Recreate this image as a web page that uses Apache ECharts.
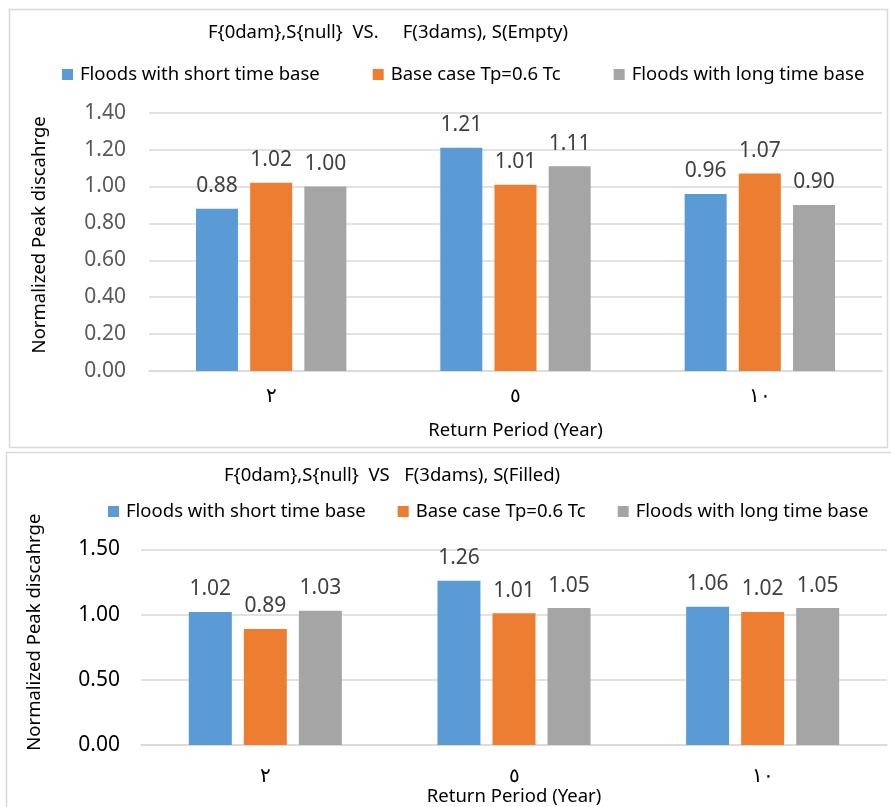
<!DOCTYPE html>
<html>
<head>
<meta charset="utf-8">
<script src="https://cdn.jsdelivr.net/npm/echarts@6/dist/echarts.min.js"></script>
<style>
html,body{margin:0;padding:0;background:#fff;}
#c{width:891px;height:807px;}
</style>
</head>
<body>
<div id="c"></div>
<script>
const categories = ['٢', '٥', '١٠'];
const seriesNames = ['Floods with short time base', 'Base case Tp=0.6 Tc', 'Floods with long time base'];
const topShort = [0.88, 1.21, 0.96];
const topBase = [1.02, 1.01, 1.07];
const topLong = [1.00, 1.11, 0.90];
const botShort = [1.02, 1.26, 1.06];
const botBase = [0.89, 1.01, 1.02];
const botLong = [1.03, 1.05, 1.05];
const topTitle = 'F{0dam},S{null}  VS.     F(3dams), S(Empty)';
const botTitle = 'F{0dam},S{null}  VS   F(3dams), S(Filled)';
const yName = 'Normalized Peak discahrge';
const xName = 'Return Period (Year)';

const colors = ['#5B9BD5', '#ED7D31', '#A5A5A5'];
const FONT = 'Noto Sans';

function barSeries(name, data, idx, color, bw, gap) {
  return {
    type: 'bar', name: name, data: data,
    xAxisIndex: idx, yAxisIndex: idx,
    barWidth: bw, barGap: gap,
    itemStyle: { color: color },
    label: {
      show: true, position: 'top', distance: 12,
      formatter: p => p.value.toFixed(2),
      fontFamily: FONT, fontSize: 21, color: '#404040'
    }
  };
}

const chart = echarts.init(document.getElementById('c'), null, { renderer: 'canvas' });
chart.setOption({
  animation: false,
  backgroundColor: '#fff',
  color: colors,
  textStyle: { fontFamily: FONT },
  graphic: [
    { type: 'rect', shape: { x: 9.5, y: 9.5, width: 878, height: 438 }, style: { fill: 'none', stroke: '#d9d9d9', lineWidth: 1.5 }, z: -1 },
    { type: 'rect', shape: { x: 6.5, y: 452.5, width: 900, height: 400 }, style: { fill: 'none', stroke: '#d9d9d9', lineWidth: 1.5 }, z: -1 }
  ],
  title: [
    { text: topTitle, left: 208, top: 23, padding: 0, textStyle: { fontFamily: FONT, fontSize: 18.5, fontWeight: 'normal', color: '#000' } },
    { text: botTitle, left: 224, top: 466, padding: 0, textStyle: { fontFamily: FONT, fontSize: 18.5, fontWeight: 'normal', color: '#000' } }
  ],
  legend: [
    { data: seriesNames, left: 62, top: 65, padding: 0, icon: 'rect', itemWidth: 11, itemHeight: 11, itemGap: 53,
      textStyle: { fontFamily: FONT, fontSize: 18.5, color: '#000', padding: [0, 0, 0, 2] } },
    { data: seriesNames, left: 108, top: 502, padding: 0, icon: 'rect', itemWidth: 11, itemHeight: 11, itemGap: 32,
      textStyle: { fontFamily: FONT, fontSize: 18.5, color: '#000', padding: [0, 0, 0, 2] } }
  ],
  grid: [
    { left: 149, right: 9, top: 112.7, bottom: 807 - 371 },
    { left: 141, right: 4, top: 549.3, bottom: 807 - 748.3 }
  ],
  xAxis: [0, 1].map(i => ({
    type: 'category', gridIndex: i, data: categories,
    axisLine: { lineStyle: { color: '#d9d9d9', width: 1.5 } },
    axisTick: { show: false },
    axisLabel: { fontFamily: FONT, fontSize: 20, color: '#000', margin: i === 0 ? 15 : 21 },
    name: xName, nameLocation: 'middle', nameGap: i === 0 ? 50 : 39,
    nameTextStyle: { fontFamily: FONT, fontSize: 18.5, color: '#000' }
  })),
  yAxis: [
    { type: 'value', gridIndex: 0, min: 0, max: 1.4, interval: 0.2,
      axisLabel: { formatter: v => v.toFixed(2), fontFamily: FONT, fontSize: 21, color: '#595959', margin: 23 },
      splitLine: { lineStyle: { color: '#d9d9d9', width: 1.5 } },
      axisLine: { show: false }, axisTick: { show: false },
      name: yName, nameLocation: 'middle', nameGap: 100, nameRotate: 90,
      nameTextStyle: { fontFamily: FONT, fontSize: 18.5, color: '#000', padding: [0, 0, 0, 14] } },
    { type: 'value', gridIndex: 1, min: 0, max: 1.5, interval: 0.5,
      axisLabel: { formatter: v => v.toFixed(2), fontFamily: FONT, fontSize: 21, color: '#000', margin: 21 },
      splitLine: { lineStyle: { color: '#d9d9d9', width: 1.5 } },
      axisLine: { show: false }, axisTick: { show: false },
      name: yName, nameLocation: 'middle', nameGap: 97, nameRotate: 90,
      nameTextStyle: { fontFamily: FONT, fontSize: 18.5, color: '#000', padding: [0, 0, 0, 30] } }
  ],
  series: [
    barSeries(seriesNames[0], topShort, 0, colors[0], 42, '29%'),
    barSeries(seriesNames[1], topBase, 0, colors[1], 42, '29%'),
    barSeries(seriesNames[2], topLong, 0, colors[2], 42, '29%'),
    barSeries(seriesNames[0], botShort, 1, colors[0], 43, '28%'),
    barSeries(seriesNames[1], botBase, 1, colors[1], 43, '28%'),
    barSeries(seriesNames[2], botLong, 1, colors[2], 43, '28%')
  ]
});
</script>
</body>
</html>
